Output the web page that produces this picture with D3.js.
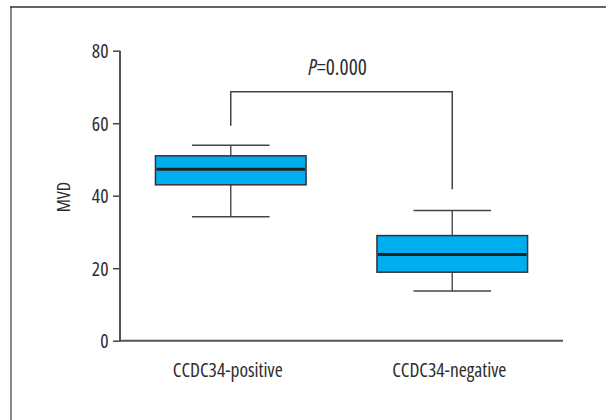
<!DOCTYPE html>
<html><head><meta charset="utf-8">
<script src="https://cdn.jsdelivr.net/npm/d3@7"></script>
<style>
html,body{margin:0;padding:0;background:#fff;}
svg{display:block;}
text{font-family:"Open Sans","Liberation Sans",sans-serif;font-stretch:75%;fill:#2e2e2e;}
</style></head>
<body>
<svg id="chart" width="606" height="420"></svg>
<script>
const categories = ["CCDC34-positive", "CCDC34-negative"];
const whiskerLow = [34.2, 13.7];
const q1 = [43.0, 18.9];
const median = [47.3, 23.8];
const q3 = [51.0, 29.0];
const whiskerHigh = [53.9, 35.9];
const yTicks = [0, 20, 40, 60, 80];
const bracketTop = 68.7;
const bracketLegEnds = [59.3, 41.8];
const pLabel = "=0.000";

const svg = d3.select("#chart");

function fit(sel, targetW) {
  const n = sel.node();
  const fs = parseFloat(sel.attr("font-size"));
  const w = n.getComputedTextLength();
  if (w > 0) sel.attr("font-size", (fs * targetW / w).toFixed(2));
  return parseFloat(sel.attr("font-size"));
}

// outer frame
svg.append("line").attr("x1", 11).attr("x2", 11).attr("y1", 7).attr("y2", 420)
  .attr("stroke", "#888").attr("stroke-width", 2);
svg.append("line").attr("x1", 10).attr("x2", 606).attr("y1", 7).attr("y2", 7)
  .attr("stroke", "#333").attr("stroke-width", 1.5);

const y = d3.scaleLinear().domain([0, 80]).range([340.7, 50.7]);
const x = d3.scalePoint().domain(categories).range([120, 563]).padding(0.5);
const step = x.step();
const boxW = step * 0.68;
const capW = step * 0.35;

// y axis
const yAxis = svg.append("g").attr("transform", "translate(120,0)")
  .call(d3.axisLeft(y).tickValues(yTicks).tickSize(7).tickPadding(4));
yAxis.select(".domain").remove();
yAxis.selectAll(".tick line").attr("stroke", "#444").attr("stroke-width", 1.5);
const tt = yAxis.selectAll(".tick text").attr("font-size", 19).attr("x", -11.5).attr("fill", "#2e2e2e");
const t80 = tt.filter(d => d === 80);
const tickFs = fit(t80, 16.7);
tt.attr("font-size", tickFs).attr("dy", (tickFs * 0.36).toFixed(2));

svg.append("line").attr("x1", 120).attr("x2", 120).attr("y1", y(80)).attr("y2", y(0) + 1)
  .attr("stroke", "#555").attr("stroke-width", 2);

// x axis
svg.append("line").attr("x1", 119).attr("x2", 563).attr("y1", y(0)).attr("y2", y(0))
  .attr("stroke", "#555").attr("stroke-width", 2);
const cl = svg.append("g").selectAll("text").data(categories).join("text")
  .attr("x", d => x(d) - 3).attr("y", 376.5)
  .attr("text-anchor", "middle").attr("font-size", 18).text(d => d);
const clFs = fit(cl.filter((d, i) => i === 0), 110);
cl.attr("font-size", clFs);

// y label
const yl = svg.append("text").attr("transform", "translate(69.5,197) rotate(-90)")
  .attr("text-anchor", "middle").attr("font-size", 16).text("MVD");
fit(yl, 30.6);

// boxes
const g = svg.append("g");
categories.forEach((c, i) => {
  const cx = x(c);
  const wl = "#555";
  g.append("line").attr("x1", cx).attr("x2", cx).attr("y1", y(whiskerHigh[i])).attr("y2", y(q3[i]))
    .attr("stroke", wl).attr("stroke-width", 1.5);
  g.append("line").attr("x1", cx).attr("x2", cx).attr("y1", y(q1[i])).attr("y2", y(whiskerLow[i]))
    .attr("stroke", wl).attr("stroke-width", 1.5);
  g.append("line").attr("x1", cx - capW / 2).attr("x2", cx + capW / 2)
    .attr("y1", y(whiskerHigh[i])).attr("y2", y(whiskerHigh[i])).attr("stroke", "#444").attr("stroke-width", 1.5);
  g.append("line").attr("x1", cx - capW / 2).attr("x2", cx + capW / 2)
    .attr("y1", y(whiskerLow[i])).attr("y2", y(whiskerLow[i])).attr("stroke", "#444").attr("stroke-width", 1.5);
  g.append("rect").attr("x", cx - boxW / 2).attr("y", y(q3[i]))
    .attr("width", boxW).attr("height", y(q1[i]) - y(q3[i]))
    .attr("fill", "#00aeef").attr("stroke", "#333").attr("stroke-width", 1.5);
  g.append("line").attr("x1", cx - boxW / 2 + 1).attr("x2", cx + boxW / 2 - 1)
    .attr("y1", y(median[i])).attr("y2", y(median[i])).attr("stroke", "#222").attr("stroke-width", 3);
});

// bracket
const bx0 = x(categories[0]), bx1 = x(categories[1]);
svg.append("path")
  .attr("d", `M${bx0},${y(bracketLegEnds[0])}V${y(bracketTop)}H${bx1}V${y(bracketLegEnds[1])}`)
  .attr("fill", "none").attr("stroke", "#444").attr("stroke-width", 1.5);

const pt = svg.append("text").attr("x", 337.5).attr("y", 75).attr("text-anchor", "middle").attr("font-size", 20);
pt.append("tspan").attr("font-style", "italic").text("P");
pt.append("tspan").text(pLabel);
fit(pt, 58.7);
</script>
</body></html>
